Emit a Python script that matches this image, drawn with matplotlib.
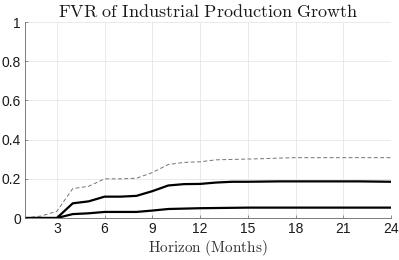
import matplotlib
matplotlib.use("Agg")
import matplotlib.pyplot as plt

plt.rcParams['mathtext.fontset'] = 'cm'
plt.rcParams['font.family'] = ['Liberation Sans', 'DejaVu Sans']

horizon = list(range(1, 25))
median = [0, 0, 0, 0.075, 0.085, 0.109, 0.109, 0.113, 0.137, 0.166, 0.173, 0.174,
          0.181, 0.185, 0.185, 0.186, 0.187, 0.187, 0.187, 0.187, 0.187, 0.187, 0.186, 0.185]
lower_solid = [0, 0, 0, 0.020, 0.024, 0.031, 0.031, 0.031, 0.038, 0.046, 0.048, 0.050,
               0.051, 0.052, 0.053, 0.053, 0.053, 0.053, 0.053, 0.053, 0.053, 0.053, 0.053, 0.053]
upper_band = [0, 0.010, 0.034, 0.150, 0.162, 0.200, 0.200, 0.203, 0.232, 0.273, 0.284, 0.287,
              0.297, 0.299, 0.301, 0.303, 0.306, 0.308, 0.308, 0.308, 0.308, 0.308, 0.308, 0.308]
lower_band = [0.0] * 24

xticks = [3, 6, 9, 12, 15, 18, 21, 24]
yticks = [0, 0.2, 0.4, 0.6, 0.8, 1]
ytick_labels = ['0', '0.2', '0.4', '0.6', '0.8', '1']

fig = plt.figure(figsize=(3.99, 2.60), dpi=100)
ax = fig.add_axes([0.0627, 0.1615, 0.9173, 0.7535])

ax.plot(horizon, upper_band, '--', color='0.45', lw=0.7, dashes=(4, 2.5))
ax.plot(horizon, lower_band, '--', color='0.45', lw=0.7, dashes=(4, 2.5))
ax.plot(horizon, median, '-', color='black', lw=1.6)
ax.plot(horizon, lower_solid, '-', color='black', lw=1.6)

ax.set_xlim(1, 24)
ax.set_ylim(0, 1)
ax.set_xticks(xticks)
ax.set_xticklabels([str(t) for t in xticks])
ax.set_yticks(yticks)
ax.set_yticklabels(ytick_labels)
ax.grid(True, color='0.9', lw=0.6)
ax.set_axisbelow(True)
for s in ['top', 'right']:
    ax.spines[s].set_visible(False)
for s in ['left', 'bottom']:
    ax.spines[s].set_color('0.4')
    ax.spines[s].set_linewidth(0.6)
ax.tick_params(direction='in', length=2.5, width=0.5, color='0.4', labelsize=10,
               labelcolor='0.1', pad=3)

ax.set_title(r'$\mathrm{FVR\ of\ Industrial\ Production\ Growth}$', fontsize=13, pad=4, color='0.1')
ax.set_xlabel(r'$\mathrm{Horizon\ (Months)}$', fontsize=11, labelpad=1, color='0.2')

fig.savefig('out.png', dpi=100)
